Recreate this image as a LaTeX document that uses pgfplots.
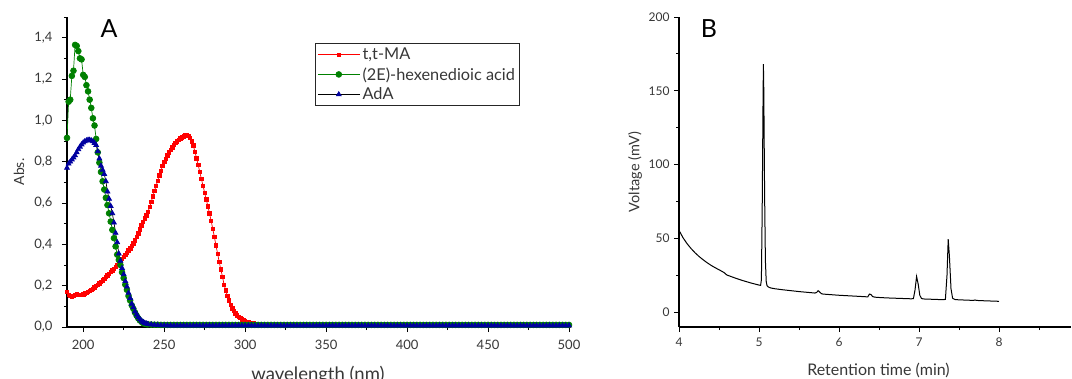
\documentclass[border=0pt]{standalone}
\usepackage{fontspec}
\setmainfont{Lato}
\usepackage{pgfplots}
\usepackage{pgfplotstable}
\pgfplotsset{compat=1.18}
\definecolor{cred}{RGB}{255,0,0}
\definecolor{cgreen}{RGB}{0,128,0}
\definecolor{cblue}{RGB}{0,0,160}
\definecolor{txt}{RGB}{55,55,55}

\pgfplotstableread[row sep=\\]{
x y\\
190 0.170\\191 0.155\\192 0.150\\193 0.148\\194 0.150\\195 0.155\\196 0.158\\197 0.157\\198 0.156\\199 0.157\\
200 0.158\\201 0.162\\202 0.166\\203 0.170\\204 0.175\\205 0.180\\206 0.186\\207 0.192\\208 0.198\\209 0.205\\
210 0.212\\211 0.219\\212 0.226\\213 0.234\\214 0.242\\215 0.250\\216 0.258\\217 0.266\\218 0.274\\219 0.282\\
220 0.291\\221 0.300\\222 0.310\\223 0.320\\224 0.330\\225 0.340\\226 0.350\\227 0.360\\228 0.370\\229 0.380\\
230 0.392\\231 0.405\\232 0.420\\233 0.436\\234 0.453\\235 0.472\\236 0.492\\237 0.510\\238 0.525\\239 0.540\\
240 0.557\\241 0.580\\242 0.605\\243 0.632\\244 0.658\\245 0.683\\246 0.708\\247 0.733\\248 0.757\\249 0.779\\
250 0.798\\251 0.815\\252 0.831\\253 0.845\\254 0.858\\255 0.870\\256 0.880\\257 0.890\\258 0.899\\259 0.906\\
260 0.913\\261 0.918\\262 0.923\\263 0.927\\264 0.928\\265 0.925\\266 0.915\\267 0.898\\268 0.878\\269 0.848\\
270 0.817\\271 0.784\\272 0.750\\273 0.716\\274 0.683\\275 0.650\\276 0.617\\277 0.584\\278 0.550\\279 0.514\\
280 0.476\\281 0.436\\282 0.395\\283 0.355\\284 0.315\\285 0.278\\286 0.244\\287 0.205\\288 0.178\\289 0.152\\
290 0.128\\291 0.108\\292 0.091\\293 0.077\\294 0.066\\295 0.057\\296 0.050\\297 0.043\\298 0.037\\299 0.032\\
300 0.029\\301 0.026\\302 0.023\\303 0.021\\304 0.019\\305 0.017\\306 0.015\\307 0.014\\308 0.013\\310 0.011\\
312 0.010\\314 0.009\\316 0.008\\318 0.008\\320 0.007\\322 0.007\\324 0.006\\326 0.006\\328 0.006\\330 0.006\\
332 0.006\\334 0.006\\336 0.006\\338 0.006\\340 0.006\\342 0.006\\344 0.006\\346 0.006\\348 0.006\\350 0.006\\
352 0.006\\354 0.006\\356 0.006\\358 0.006\\360 0.006\\362 0.006\\364 0.006\\366 0.006\\368 0.006\\370 0.006\\
372 0.006\\374 0.006\\376 0.006\\378 0.006\\380 0.006\\382 0.006\\384 0.006\\386 0.006\\388 0.006\\390 0.006\\
392 0.006\\394 0.006\\396 0.006\\398 0.006\\400 0.006\\402 0.006\\404 0.006\\406 0.006\\408 0.006\\410 0.006\\
412 0.006\\414 0.006\\416 0.006\\418 0.006\\420 0.006\\422 0.006\\424 0.006\\426 0.006\\428 0.006\\430 0.006\\
432 0.006\\434 0.006\\436 0.006\\438 0.006\\440 0.006\\442 0.006\\444 0.006\\446 0.006\\448 0.006\\450 0.006\\
452 0.006\\454 0.006\\456 0.006\\458 0.006\\460 0.006\\462 0.006\\464 0.006\\466 0.006\\468 0.006\\470 0.006\\
472 0.006\\474 0.006\\476 0.006\\478 0.006\\480 0.006\\482 0.006\\484 0.006\\486 0.006\\488 0.006\\490 0.006\\
492 0.006\\494 0.006\\496 0.006\\498 0.006\\500 0.006\\
}\ttma

\pgfplotstableread[row sep=\\]{
x y\\
190 0.915\\191 1.090\\192 1.100\\193 1.215\\194 1.240\\195 1.365\\196 1.360\\197 1.335\\198 1.300\\199 1.295\\
200 1.220\\201 1.210\\202 1.170\\203 1.140\\204 1.100\\205 1.060\\206 1.010\\207 0.975\\208 0.910\\209 0.845\\
210 0.795\\211 0.750\\212 0.705\\213 0.665\\214 0.625\\215 0.590\\216 0.550\\217 0.510\\218 0.470\\219 0.430\\
220 0.390\\221 0.350\\222 0.325\\223 0.300\\224 0.265\\225 0.237\\226 0.205\\227 0.180\\228 0.150\\229 0.128\\
230 0.105\\231 0.088\\232 0.070\\233 0.055\\234 0.042\\235 0.032\\236 0.025\\237 0.019\\238 0.016\\239 0.014\\
240 0.013\\242 0.012\\244 0.011\\246 0.011\\248 0.010\\250 0.010\\252 0.010\\254 0.010\\256 0.010\\258 0.010\\
260 0.010\\262 0.010\\264 0.010\\266 0.010\\268 0.010\\270 0.010\\272 0.010\\274 0.010\\276 0.010\\278 0.010\\
280 0.010\\282 0.010\\284 0.010\\286 0.010\\288 0.010\\290 0.010\\292 0.010\\294 0.010\\296 0.010\\298 0.010\\
300 0.010\\302 0.010\\304 0.010\\306 0.010\\308 0.010\\310 0.010\\312 0.010\\314 0.010\\316 0.010\\318 0.010\\
320 0.010\\322 0.010\\324 0.010\\326 0.010\\328 0.010\\330 0.010\\332 0.010\\334 0.010\\336 0.010\\338 0.010\\
340 0.010\\342 0.010\\344 0.010\\346 0.010\\348 0.010\\350 0.010\\352 0.010\\354 0.010\\356 0.010\\358 0.010\\
360 0.010\\362 0.010\\364 0.010\\366 0.010\\368 0.010\\370 0.010\\372 0.010\\374 0.010\\376 0.010\\378 0.010\\
380 0.010\\382 0.010\\384 0.010\\386 0.010\\388 0.010\\390 0.010\\392 0.010\\394 0.010\\396 0.010\\398 0.010\\
400 0.010\\402 0.010\\404 0.010\\406 0.010\\408 0.010\\410 0.010\\412 0.010\\414 0.010\\416 0.010\\418 0.010\\
420 0.010\\422 0.010\\424 0.010\\426 0.010\\428 0.010\\430 0.010\\432 0.010\\434 0.010\\436 0.010\\438 0.010\\
440 0.010\\442 0.010\\444 0.010\\446 0.010\\448 0.010\\450 0.010\\452 0.010\\454 0.010\\456 0.010\\458 0.010\\
460 0.010\\462 0.010\\464 0.010\\466 0.010\\468 0.010\\470 0.010\\472 0.010\\474 0.010\\476 0.010\\478 0.010\\
480 0.010\\482 0.010\\484 0.010\\486 0.010\\488 0.010\\490 0.010\\492 0.010\\494 0.010\\496 0.010\\498 0.010\\
500 0.010\\
}\hexa

\pgfplotstableread[row sep=\\]{
x y\\
190 0.770\\191 0.790\\192 0.800\\193 0.810\\194 0.820\\195 0.830\\196 0.845\\197 0.860\\198 0.872\\199 0.883\\
200 0.892\\201 0.898\\202 0.902\\203 0.905\\204 0.905\\205 0.902\\206 0.898\\207 0.890\\208 0.880\\209 0.850\\
210 0.815\\211 0.780\\212 0.760\\213 0.740\\214 0.705\\215 0.655\\216 0.620\\217 0.585\\218 0.550\\219 0.505\\
220 0.455\\221 0.410\\222 0.355\\223 0.320\\224 0.285\\225 0.255\\226 0.222\\227 0.195\\228 0.165\\229 0.140\\
230 0.112\\231 0.095\\232 0.075\\233 0.060\\234 0.048\\235 0.038\\236 0.030\\237 0.024\\238 0.019\\239 0.016\\
240 0.014\\242 0.012\\244 0.010\\246 0.009\\248 0.008\\250 0.008\\252 0.007\\254 0.007\\256 0.007\\258 0.007\\
260 0.007\\262 0.007\\264 0.007\\266 0.007\\268 0.007\\270 0.007\\272 0.007\\274 0.007\\276 0.007\\278 0.007\\
280 0.007\\282 0.007\\284 0.007\\286 0.007\\288 0.007\\290 0.007\\292 0.007\\294 0.007\\296 0.007\\298 0.007\\
300 0.007\\302 0.007\\304 0.007\\306 0.007\\308 0.007\\310 0.007\\312 0.007\\314 0.007\\316 0.007\\318 0.007\\
320 0.007\\322 0.007\\324 0.007\\326 0.007\\328 0.007\\330 0.007\\332 0.007\\334 0.007\\336 0.007\\338 0.007\\
340 0.007\\342 0.007\\344 0.007\\346 0.007\\348 0.007\\350 0.007\\352 0.007\\354 0.007\\356 0.007\\358 0.007\\
360 0.007\\362 0.007\\364 0.007\\366 0.007\\368 0.007\\370 0.007\\372 0.007\\374 0.007\\376 0.007\\378 0.007\\
380 0.007\\382 0.007\\384 0.007\\386 0.007\\388 0.007\\390 0.007\\392 0.007\\394 0.007\\396 0.007\\398 0.007\\
400 0.007\\402 0.007\\404 0.007\\406 0.007\\408 0.007\\410 0.007\\412 0.007\\414 0.007\\416 0.007\\418 0.007\\
420 0.007\\422 0.007\\424 0.007\\426 0.007\\428 0.007\\430 0.007\\432 0.007\\434 0.007\\436 0.007\\438 0.007\\
440 0.007\\442 0.007\\444 0.007\\446 0.007\\448 0.007\\450 0.007\\452 0.007\\454 0.007\\456 0.007\\458 0.007\\
460 0.007\\462 0.007\\464 0.007\\466 0.007\\468 0.007\\470 0.007\\472 0.007\\474 0.007\\476 0.007\\478 0.007\\
480 0.007\\482 0.007\\484 0.007\\486 0.007\\488 0.007\\490 0.007\\492 0.007\\494 0.007\\496 0.007\\498 0.007\\
500 0.007\\
}\ada

\pgfplotstableread[row sep=\\]{
x y\\
4.00 55.5\\4.02 53.5\\4.05 50.5\\4.10 46.5\\4.15 43.2\\4.20 40.3\\4.25 37.8\\4.30 35.6\\4.35 33.6\\4.40 31.8\\
4.45 30.2\\4.50 28.8\\4.55 27.3\\4.57 26.6\\4.58 26.0\\4.60 25.2\\4.65 24.2\\4.70 23.2\\4.75 22.3\\4.80 21.4\\
4.85 20.6\\4.90 19.8\\4.95 19.1\\5.00 18.4\\5.02 18.2\\5.03 22\\5.04 70\\5.05 140\\5.055 168\\5.06 150\\
5.07 80\\5.08 35\\5.09 21\\5.10 18.0\\5.12 17.0\\5.15 16.4\\5.20 15.9\\5.30 15.2\\5.40 14.6\\5.50 14.0\\
5.60 13.5\\5.70 13.0\\5.72 13.4\\5.74 14.6\\5.76 13.6\\5.78 12.6\\5.80 12.3\\5.90 11.9\\6.00 11.5\\6.10 11.2\\
6.20 10.9\\6.30 10.6\\6.36 10.4\\6.38 12.3\\6.40 12.0\\6.42 10.6\\6.45 10.2\\6.50 10.0\\6.60 9.7\\6.70 9.5\\
6.80 9.3\\6.90 9.1\\6.93 9.2\\6.95 15\\6.97 24.2\\6.99 19\\7.01 11.5\\7.03 9.4\\7.05 9.0\\7.10 8.9\\
7.20 8.7\\7.30 8.5\\7.33 8.7\\7.35 25\\7.365 49.5\\7.38 38\\7.40 16\\7.42 9.5\\7.45 8.6\\7.50 8.4\\
7.60 8.2\\7.68 8.0\\7.70 8.3\\7.72 8.0\\7.80 7.8\\7.90 7.6\\8.00 7.4\\
}\chrom

\pgfplotsset{
  common/.style={
    scale only axis, anchor=south west,
    axis lines=left, axis line style={-, line width=1.2pt, black},
    tick align=outside, major tick length=5pt, minor tick length=3pt,
    every tick/.style={black, line width=0.9pt},
    tick label style={text=txt},
    /pgf/number format/assume math mode=true,
  }
}

\begin{document}
\begin{tikzpicture}[x=1pt,y=1pt]
\path[use as bounding box] (0pt,0pt) rectangle (1072pt,378pt);
\clip (0pt,0pt) rectangle (1072pt,378pt);

\begin{axis}[common, at={(67pt,51pt)}, width=502pt, height=310pt,
  xmin=190, xmax=500, ymin=0, ymax=1.5,
  xtick={200,250,300,350,400,450,500}, minor xtick={225,275,325,375,425,475},
  ytick={0,0.2,0.4,0.6,0.8,1.0,1.2,1.4}, minor ytick={0.1,0.3,0.5,0.7,0.9,1.1,1.3,1.5},
  yticklabel style={/pgf/number format/fixed, /pgf/number format/fixed zerofill, /pgf/number format/precision=1, /pgf/number format/use comma, xshift=-6pt},
  tick label style={font=\fontsize{13}{15}\selectfont},
  xticklabel style={yshift=-5pt},
  legend cell align=left,
  legend style={at={(0.494,0.916)}, anchor=north west, draw=black!85, line width=0.9pt,
    font=\fontsize{16.3}{18}\selectfont, text=txt, inner xsep=2pt, inner ysep=2pt,
    row sep=1.2pt, nodes={inner sep=2.5pt}},
  legend image code/.code={\draw[mark repeat=2,mark phase=2,#1] plot coordinates {(0pt,0pt) (21pt,0pt) (42pt,0pt)};},
]
\addplot[cred, line width=0.7pt, mark=square*, mark size=1.7pt, mark options={solid, fill=cred, draw=cred}] table {\ttma};
\addlegendentry{t,t-MA}
\addplot[cgreen, line width=0.7pt, mark=*, mark size=2.9pt, mark options={solid, fill=cgreen, draw=cgreen}] table {\hexa};
\addlegendentry{(2E)-hexenedioic acid}
\addplot[black, line width=0.7pt, mark=triangle*, mark size=2.8pt, mark options={solid, fill=cblue, draw=cblue}] table {\ada};
\addlegendentry{AdA}
\end{axis}

\begin{axis}[common, at={(679pt,51pt)}, width=392pt, height=310pt,
  xmin=4, xmax=8.9, ymin=-10, ymax=200,
  xtick={4,5,6,7,8}, minor xtick={4.5,5.5,6.5,7.5,8.5},
  ytick={0,50,100,150,200}, minor ytick={25,75,125,175},
  tick label style={font=\fontsize{12}{14}\selectfont},
  xticklabel style={yshift=-2pt},
  yticklabel style={xshift=-1pt},
]
\addplot[black, line width=1pt] table {\chrom};
\end{axis}

\node[font=\fontsize{25}{28}\selectfont] at (109pt,349pt) {A};
\node[font=\fontsize{25}{28}\selectfont] at (709pt,349pt) {B};
\node[font=\fontsize{14}{16}\selectfont, text=txt, rotate=90] at (19pt,206pt) {Abs.};
\node[font=\fontsize{14.5}{16}\selectfont, text=txt, rotate=90] at (635pt,206pt) {Voltage (mV)};
\node[font=\fontsize{18.5}{20}\selectfont, text=txt, anchor=base, inner sep=0pt] at (318pt,-2pt) {wavelength (nm)};
\node[font=\fontsize{16}{18}\selectfont, text=txt, anchor=base, inner sep=0pt] at (878.5pt,2.3pt) {Retention time (min)};
\end{tikzpicture}
\end{document}
